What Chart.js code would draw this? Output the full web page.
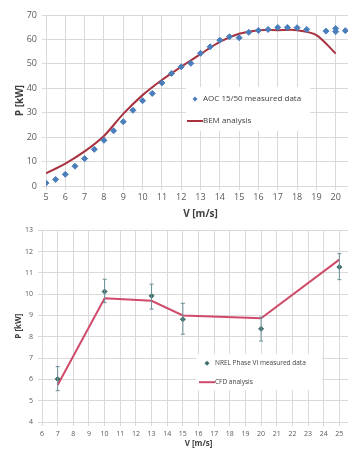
<!DOCTYPE html>
<html>
<head>
<meta charset="utf-8">
<script src="https://cdn.jsdelivr.net/npm/chart.js@4.4.0/dist/chart.umd.min.js"></script>
<style>
    html, body { margin: 0; padding: 0; background: #fff; width: 348px; height: 450px; overflow: hidden; position: relative; }
    #top-chart { position: absolute; left: 0; top: 0; }
    #bottom-chart { position: absolute; left: 0; top: 221px; }
</style>
</head>
<body>
<canvas id="top-chart" width="360" height="222"></canvas>
<canvas id="bottom-chart" width="363" height="229"></canvas>
<script>
// top chart: AOC 15/50 measured vs BEM
const aocSpeed = [5, 5.5, 6, 6.5, 7, 7.5, 8, 8.5, 9, 9.5, 10, 10.5, 11, 11.5, 12, 12.5, 13, 13.5,
    14, 14.5, 15, 15.5, 16, 16.5, 17, 17.5, 18, 18.5, 19.5, 20, 20, 20.5];
const aocPower = [1.2, 2.7, 4.8, 8.1, 11.2, 15.0, 18.7, 22.6, 26.3, 31.0, 34.9, 37.9, 42.2, 46.1, 48.8, 50.2, 54.3, 57.0,
    59.7, 61.1, 60.7, 62.9, 63.7, 64.1, 64.9, 64.9, 64.8, 64.1, 63.4, 63.2, 64.5, 63.6];
const bemSpeed = [5, 6, 7, 8, 9, 10, 11, 12, 13, 14, 15, 16, 17, 18, 19, 20];
const bemPower = [5.2, 9.2, 14.2, 20.5, 29.5, 37.2, 43.4, 48.8, 54.0, 59.0, 62.3, 63.8, 63.8, 63.8, 61.8, 54.2];

// bottom chart: NREL Phase VI measured vs CFD
const nrelSpeed = [7, 10, 13, 15, 20, 25];
const nrelPower = [6.02, 10.12, 9.92, 8.82, 8.37, 11.27];
const nrelLow = [5.47, 9.6, 9.3, 8.12, 7.8, 10.68];
const nrelHigh = [6.6, 10.7, 10.47, 9.57, 8.92, 11.9];
const cfdSpeed = [7, 10, 13, 15, 20, 25];
const cfdPower = [5.74, 9.81, 9.69, 9.0, 8.87, 11.62];

const gridColor = '#d9d9d9';
const textColor = '#595959';
const fontFamily = "'Open Sans', 'Liberation Sans', sans-serif";

const toPoints = (xs, ys) => xs.map((x, i) => ({ x, y: ys[i] }));

// vertical error bars, drawn through the chart's own scales
const errorBars = {
    id: 'errorBars',
    afterDatasetsDraw(chart, args, opts) {
        if (!opts.low) return;
        const { ctx, scales: { x, y } } = chart;
        ctx.save();
        ctx.strokeStyle = opts.color;
        ctx.lineWidth = 1;
        opts.xs.forEach((v, i) => {
            const px = x.getPixelForValue(v);
            const top = y.getPixelForValue(opts.high[i]);
            const bot = y.getPixelForValue(opts.low[i]);
            ctx.beginPath();
            ctx.moveTo(px, top); ctx.lineTo(px, bot);
            ctx.moveTo(px - 2, top); ctx.lineTo(px + 2, top);
            ctx.moveTo(px - 2, bot); ctx.lineTo(px + 2, bot);
            ctx.stroke();
        });
        ctx.restore();
    }
};

// legend sitting inside the plot, like the Excel original
const innerLegend = {
    id: 'innerLegend',
    afterDraw(chart, args, opts) {
        const { ctx, chartArea } = chart;
        const left = chartArea.left + opts.dx;
        const top = chartArea.top + opts.dy;
        ctx.save();
        ctx.fillStyle = '#fff';
        ctx.fillRect(left, top, opts.w, opts.h);
        ctx.font = opts.size + 'px ' + fontFamily;
        ctx.textBaseline = 'middle';
        const ds = chart.data.datasets;
        // marker row
        const y1 = top + opts.row1;
        ctx.fillStyle = ds[0].backgroundColor;
        ctx.beginPath();
        const mx = left + opts.markerX;
        ctx.moveTo(mx, y1 - 2.5); ctx.lineTo(mx + 2.5, y1); ctx.lineTo(mx, y1 + 2.5); ctx.lineTo(mx - 2.5, y1);
        ctx.closePath(); ctx.fill();
        ctx.fillStyle = '#404040';
        ctx.fillText(ds[0].label, left + opts.textX, y1);
        // line row
        const y2 = top + opts.row2;
        ctx.strokeStyle = ds[1].borderColor;
        ctx.lineWidth = 2;
        ctx.beginPath();
        ctx.moveTo(left + opts.markerX - 8, y2); ctx.lineTo(left + opts.markerX + 8, y2);
        ctx.stroke();
        ctx.fillText(ds[1].label, left + opts.textX, y2);
        ctx.restore();
    }
};

function axisTitle(text, size, pad) {
    return { display: true, text, color: '#404040', font: { family: fontFamily, size, weight: 'bold' }, padding: pad };
}

new Chart(document.getElementById('top-chart'), {
    type: 'scatter',
    data: {
        datasets: [
            {
                label: 'AOC 15/50 measured data',
                data: toPoints(aocSpeed, aocPower),
                backgroundColor: '#4a7ebb',
                borderColor: '#4a7ebb',
                pointStyle: 'rectRot',
                pointRadius: 3,
                order: 1
            },
            {
                label: 'BEM analysis',
                type: 'line',
                data: toPoints(bemSpeed, bemPower),
                borderColor: '#a8323e',
                backgroundColor: '#a8323e',
                borderWidth: 2,
                pointRadius: 0,
                tension: 0.3,
                order: 2
            }
        ]
    },
    options: {
        responsive: false,
        animation: false,
        layout: { padding: { top: 15, left: 12, right: 0, bottom: 0 } },
        plugins: {
            legend: { display: false },
            tooltip: { enabled: false },
            innerLegend: { dx: 140, dy: 72, w: 124, h: 44, size: 8, row1: 12, row2: 34, markerX: 9, textX: 17 }
        },
        scales: {
            x: {
                type: 'linear', min: 5, max: 21,
                ticks: { stepSize: 1, color: textColor, font: { family: fontFamily, size: 9 }, padding: 2,
                    callback: v => v > 20 ? '' : v },
                grid: { color: gridColor, tickLength: 4 },
                border: { color: gridColor },
                title: axisTitle('V [m/s]', 10, 2),
                afterFit: s => { s.height = 36; }
            },
            y: {
                min: 0, max: 70,
                ticks: { stepSize: 10, color: textColor, font: { family: fontFamily, size: 9 }, padding: 5 },
                grid: { color: gridColor, tickLength: 4 },
                border: { color: gridColor },
                title: axisTitle('P [kW]', 10, 2),
                afterFit: s => { s.width = 34; }
            }
        }
    },
    plugins: [innerLegend]
});

new Chart(document.getElementById('bottom-chart'), {
    type: 'scatter',
    data: {
        datasets: [
            {
                label: 'NREL Phase VI measured data',
                data: toPoints(nrelSpeed, nrelPower),
                backgroundColor: '#3f6f6c',
                borderColor: '#3f6f6c',
                pointStyle: 'rectRot',
                pointRadius: 2.5,
                order: 1
            },
            {
                label: 'CFD analysis',
                type: 'line',
                data: toPoints(cfdSpeed, cfdPower),
                borderColor: '#d04a6a',
                backgroundColor: '#d04a6a',
                borderWidth: 2,
                pointRadius: 0,
                tension: 0,
                order: 2
            }
        ]
    },
    options: {
        responsive: false,
        animation: false,
        layout: { padding: { top: 0, left: 12, right: 0, bottom: 0 } },
        plugins: {
            legend: { display: false },
            tooltip: { enabled: false },
            errorBars: { xs: nrelSpeed, low: nrelLow, high: nrelHigh, color: '#6b8f96' },
            innerLegend: { dx: 154, dy: 124, w: 126, h: 36, size: 6.5, row1: 9, row2: 28, markerX: 11, textX: 19 }
        },
        scales: {
            x: {
                type: 'linear', min: 6, max: 26,
                ticks: { stepSize: 1, color: textColor, font: { family: fontFamily, size: 7 }, padding: 4 },
                grid: { color: gridColor, tickLength: 4 },
                border: { color: gridColor },
                title: axisTitle('V [m/s]', 8, { top: 1, bottom: 1 }),
                afterFit: s => { s.height = 28; }
            },
            y: {
                min: 4, max: 13,
                ticks: { stepSize: 1, color: textColor, font: { family: fontFamily, size: 7 }, padding: 5 },
                grid: { color: gridColor, tickLength: 4 },
                border: { color: gridColor },
                title: axisTitle('P [kW]', 8, 2),
                afterFit: s => { s.width = 30; }
            }
        }
    },
    plugins: [errorBars, innerLegend]
});
</script>
</body>
</html>
